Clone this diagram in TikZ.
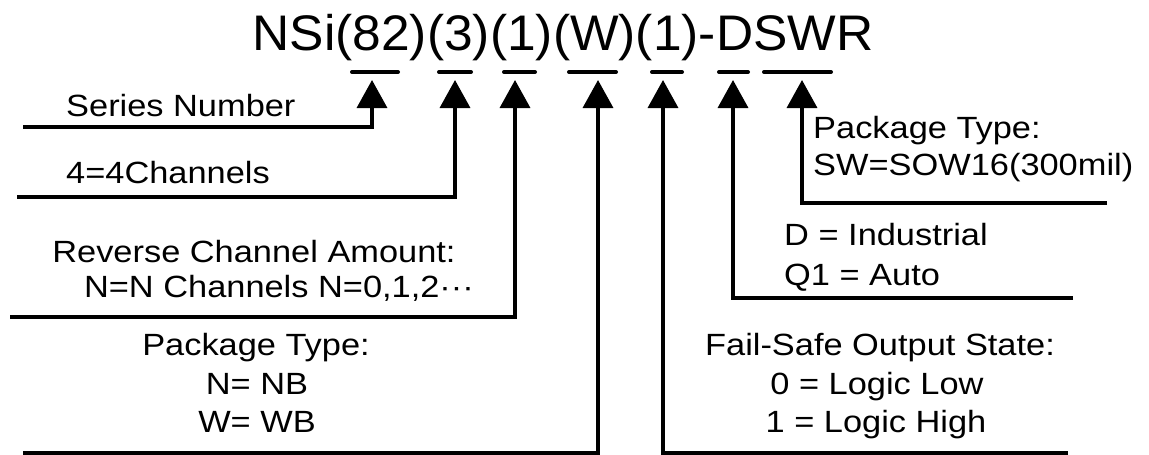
\documentclass[tikz,border=0pt]{standalone}
\usepackage{fontspec}
\setmainfont{Liberation Sans}
\newfontfamily\lblfont[FakeStretch=1.12]{Liberation Sans}
\newfontfamily\ttlfont[FakeStretch=1.03]{Liberation Sans}
\usetikzlibrary{arrows.meta}
\begin{document}
\begin{tikzpicture}[x=1pt,y=-1pt,
  lbl/.style={inner sep=0pt, font=\lblfont\fontsize{30.7}{36}\selectfont},
  ttl/.style={inner sep=0pt, font=\ttlfont\fontsize{50}{60}\selectfont},
  uline/.style={line width=4pt, line cap=round},
  conn/.style={line width=3.5pt, -{Triangle[width=30pt,length=28pt]}}]
\useasboundingbox (0,0) rectangle (1149,455);

% title
\node[ttl, anchor=base] (title) at (563,50) {NSi(82)(3)(1)(W)(1)-DSWR};

% underlines
\draw[uline] (352,72) -- (398,72);
\draw[uline] (439,72) -- (471,72);
\draw[uline] (504,72) -- (535,72);
\draw[uline] (569,72) -- (616,72);
\draw[uline] (652,72) -- (682,72);
\draw[uline] (719,72) -- (748,72);
\draw[uline] (764,72) -- (831,72);

% arrow tips
\coordinate (t1) at (372,80);
\coordinate (t2) at (455,80);
\coordinate (t3) at (515,80);
\coordinate (t4) at (598,80);
\coordinate (t5) at (663,80);
\coordinate (t6) at (733,80);
\coordinate (t7) at (802,80);

% line ends
\coordinate (s1) at (23,127);
\coordinate (s2) at (17,197);
\coordinate (s3) at (10,317);
\coordinate (s4) at (23,453);
\coordinate (s5) at (1068,453);
\coordinate (s6) at (1073,298);
\coordinate (s7) at (1107,203);

\draw[conn] (s1) -| (t1);
\draw[conn] (s2) -| (t2);
\draw[conn] (s3) -| (t3);
\draw[conn] (s4) -| (t4);
\draw[conn] (s5) -| (t5);
\draw[conn] (s6) -| (t6);
\draw[conn] (s7) -| (t7);

% labels
\node[lbl, anchor=base west] (series) at (66,116) {Series Number};
\node[lbl, anchor=base west] (chan) at (66,183) {4=4Channels};
\node[lbl, anchor=base] (rev1) at (254,262) {Reverse Channel Amount:};
\node[lbl, anchor=base] (rev2) at (279,297) {N=N Channels N=0,1,2\char"00B7\char"00B7\char"00B7};
\node[lbl, anchor=base] (pkw1) at (256,355) {Package Type:};
\node[lbl, anchor=base] (pkw2) at (257,394) {N= NB};
\node[lbl, anchor=base] (pkw3) at (257,432) {W= WB};
\node[lbl, anchor=base] (fs1) at (880,355) {Fail-Safe Output State:};
\node[lbl, anchor=base] (fs2) at (877,394) {0 = Logic Low};
\node[lbl, anchor=base] (fs3) at (876,432) {1 = Logic High};
\node[lbl, anchor=base west] (tmp1) at (784,245) {D = Industrial};
\node[lbl, anchor=base west] (tmp2) at (784,285) {Q1 = Auto};
\node[lbl, anchor=base west] (pks1) at (813,138) {Package Type:};
\node[lbl, anchor=base west] (pks2) at (813,175) {SW=SOW16(300mil)};
\end{tikzpicture}
\end{document}
